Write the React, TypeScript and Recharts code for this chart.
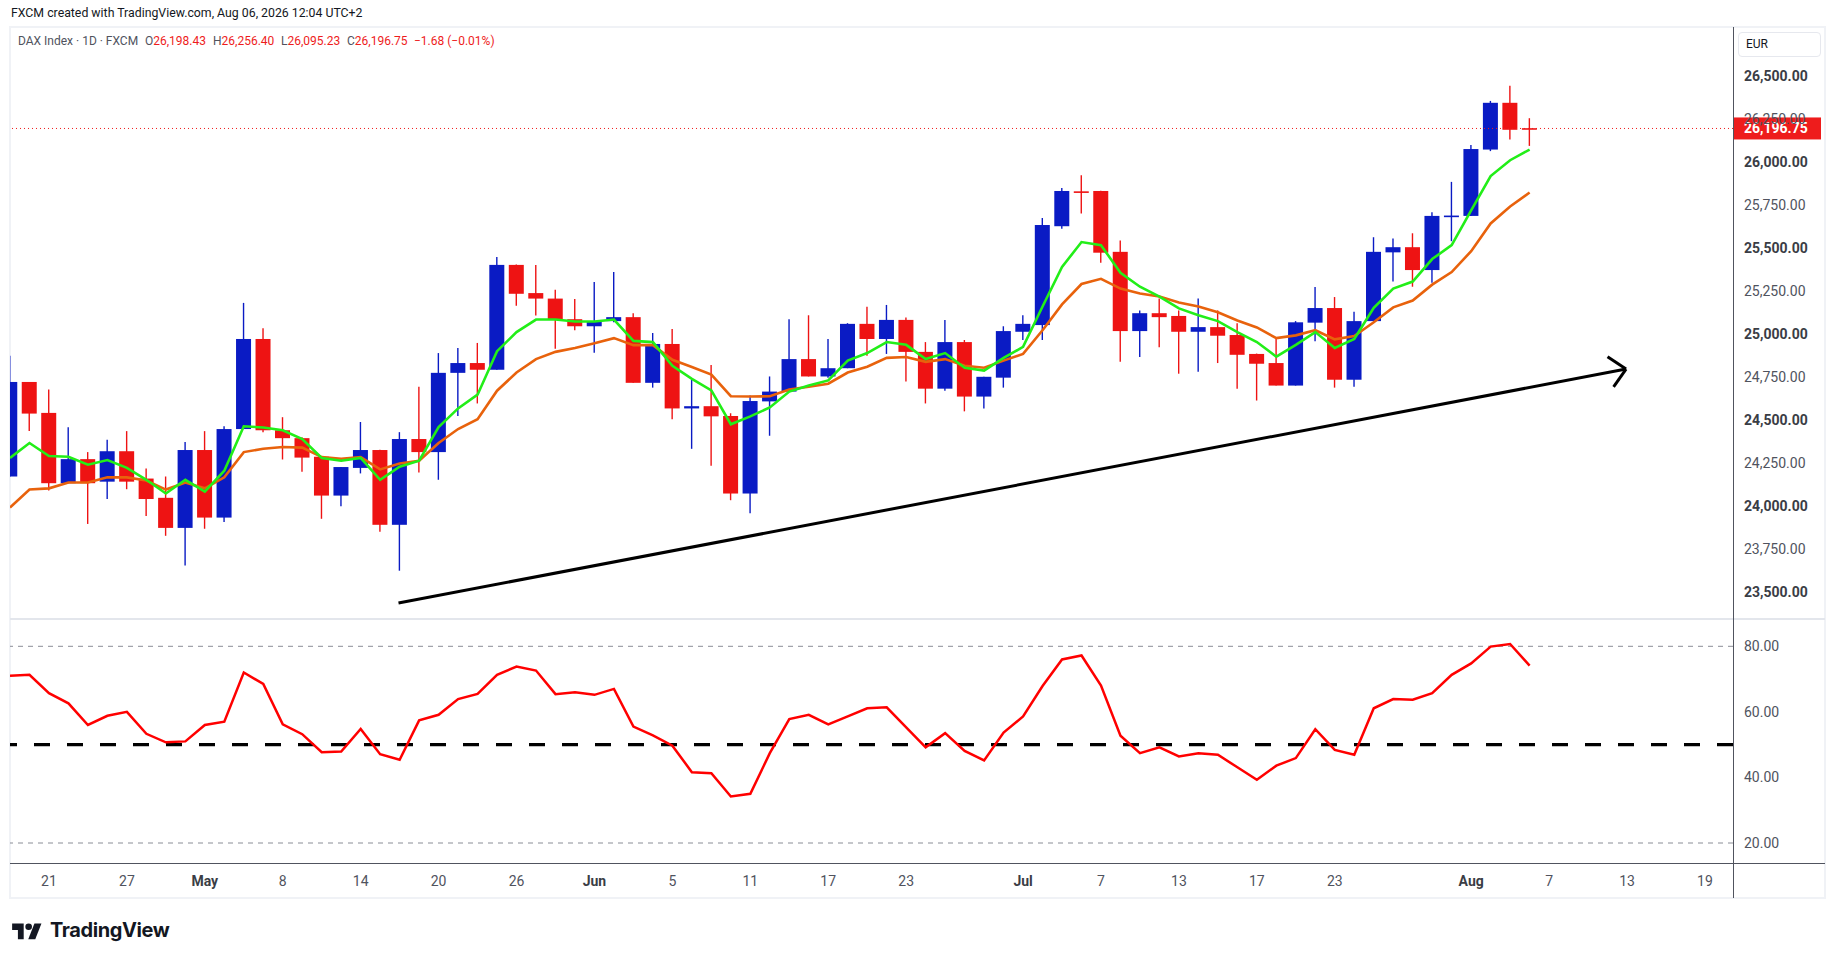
import { ComposedChart, Bar, Line, XAxis, YAxis, ReferenceLine } from "recharts";

// Daily DAX candles, Apr 17 → Aug 6 2026 (index 0..78).
const OPEN = [
  24172, 24722, 24542, 24133, 24273, 24142, 24319, 24160, 24048, 23873,
  24326, 23933, 24448, 24972, 24441, 24395, 24287, 24061, 24222, 24326,
  23891, 24390, 24314, 24775, 24832, 24793, 25403, 25239, 25207, 25087,
  25046, 25076, 25099, 24717, 24943, 24568, 24581, 24524, 24073, 24609,
  24666, 24855, 24754, 24802, 25060, 24972, 25083, 24897, 24683, 24954,
  24637, 24747, 25014, 25053, 25628, 25831, 25833, 25479, 25018, 25122,
  25106, 25014, 25041, 24995, 24885, 24832, 24701, 25067, 25152, 24735,
  25076, 25476, 25506, 25373, 25683, 25688, 26074, 26346, 26198.43,
];
const HIGH = [
  24874, 24722, 24678, 24459, 24314, 24386, 24436, 24218, 24172, 24372,
  24436, 24464, 25182, 25035, 24517, 24400, 24290, 24227, 24489, 24328,
  24430, 24694, 24890, 24920, 24949, 25449, 25405, 25403, 25258, 25205,
  25304, 25361, 25122, 25007, 25030, 24735, 24821, 24540, 24643, 24754,
  25087, 25110, 24972, 25064, 25159, 25170, 25097, 24954, 25083, 24966,
  24752, 25046, 25110, 25676, 25851, 25925, 25835, 25545, 25138, 25207,
  25138, 25207, 25138, 25064, 24887, 24977, 25076, 25274, 25216, 25131,
  25564, 25557, 25587, 25709, 25886, 26100, 26357, 26445, 26256.4,
];
const LOW = [
  24170, 24436, 24091, 24133, 23896, 24041, 24098, 23942, 23827, 23654,
  23868, 23907, 24448, 24430, 24271, 24199, 23926, 23999, 24190, 23850,
  23624, 24195, 24153, 24524, 24597, 24793, 25166, 25108, 24915, 25023,
  24892, 25069, 24717, 24689, 24505, 24333, 24234, 24034, 23958, 24409,
  24666, 24754, 24747, 24802, 24874, 24885, 24724, 24597, 24671, 24551,
  24568, 24689, 24966, 24966, 25614, 25702, 25416, 24839, 24867, 24924,
  24770, 24781, 24832, 24683, 24614, 24701, 24701, 24959, 24689, 24694,
  25076, 25306, 25276, 25299, 25541, 25688, 26065, 26132, 26095.23,
];
const CLOSE = [
  24722, 24538, 24133, 24273, 24133, 24319, 24142, 24041, 23873, 24326,
  23933, 24448, 24972, 24441, 24395, 24282, 24061, 24227, 24326, 23891,
  24390, 24314, 24775, 24832, 24793, 25403, 25235, 25207, 25087, 25046,
  25076, 25099, 24717, 24943, 24568, 24581, 24522, 24073, 24611, 24666,
  24855, 24754, 24802, 25060, 24972, 25083, 24897, 24683, 24954, 24637,
  24752, 25018, 25060, 25635, 25833, 25826, 25474, 25018, 25122, 25099,
  25014, 25041, 24991, 24880, 24828, 24701, 25069, 25152, 24735, 25076,
  25479, 25506, 25373, 25688, 25690, 26077, 26346, 26189, 26196.75,
];
// Fast (green) and slow (orange) moving averages as drawn on the chart.
const MA_FAST = [
  24280, 24367, 24291, 24287, 24241, 24268, 24222, 24153, 24073, 24153,
  24084, 24206, 24464, 24457, 24441, 24390, 24280, 24264, 24280, 24153,
  24229, 24264, 24459, 24568, 24648, 24901, 25012, 25085, 25085, 25074,
  25074, 25085, 24961, 24954, 24816, 24740, 24673, 24476, 24522, 24574,
  24666, 24701, 24731, 24846, 24890, 24954, 24938, 24855, 24890, 24805,
  24788, 24862, 24926, 25161, 25391, 25536, 25518, 25357, 25276, 25219,
  25150, 25110, 25076, 25012, 24954, 24869, 24938, 25012, 24920, 24972,
  25154, 25265, 25306, 25437, 25518, 25720, 25920, 26012, 26074,
];
const MA_SLOW = [
  23992, 24096, 24103, 24137, 24137, 24167, 24167, 24149, 24096, 24137,
  24103, 24167, 24314, 24333, 24344, 24340, 24285, 24275, 24285, 24213,
  24248, 24264, 24367, 24448, 24505, 24671, 24777, 24855, 24897, 24920,
  24947, 24977, 24936, 24936, 24851, 24809, 24765, 24639, 24637, 24639,
  24678, 24694, 24712, 24777, 24811, 24862, 24867, 24839, 24855, 24816,
  24805, 24846, 24885, 25023, 25173, 25292, 25322, 25265, 25237, 25219,
  25184, 25161, 25127, 25080, 25039, 24977, 24993, 25023, 24970, 24989,
  25069, 25156, 25196, 25288, 25361, 25483, 25644, 25743, 25824,
];
const RSI = [
  71.0, 71.3, 65.7, 62.6, 56.0, 58.8, 60.0, 53.3, 50.7, 51.0,
  56.0, 57.0, 72.0, 68.5, 56.2, 53.2, 47.7, 47.9, 54.8, 47.1,
  45.4, 57.4, 59.1, 63.9, 65.5, 71.3, 73.8, 72.6, 65.4, 66.0,
  65.2, 67.0, 55.5, 52.8, 49.7, 41.6, 41.3, 34.2, 35.0, 47.4,
  57.8, 59.1, 56.2, 58.6, 61.1, 61.4, 55.3, 49.2, 53.5, 48.1,
  45.2, 53.7, 58.6, 67.9, 76.0, 77.2, 68.0, 52.7, 47.4, 49.2,
  46.4, 47.4, 46.9, 43.1, 39.3, 43.6, 45.9, 54.7, 48.4, 46.9,
  61.1, 63.9, 63.7, 65.7, 71.3, 74.8, 79.9, 80.7, 74.1,
];

// Time axis: bar index of each date label.
const DATE_TICK_IDX = [2, 6, 10, 14, 18, 22, 26, 30, 34, 38, 42, 46, 52, 56, 60, 64, 68, 75, 79, 83, 87];
const DATE_LABELS = ["21", "27", "May", "8", "14", "20", "26", "Jun", "5", "11", "17", "23", "Jul", "7", "13", "17", "23", "Aug", "7", "13", "19"];
const PRICE_TICKS = [23500, 23750, 24000, 24250, 24500, 24750, 25000, 25250, 25500, 25750, 26000, 26250, 26500];
const RSI_TICKS = [20, 40, 60, 80];

// Hand-drawn trend arrow, in (bar index, price).
const TREND_LINE = [{ x: 19.94, y: 23436 }, { x: 82.95, y: 24797 }];
const ARROW_UPPER = [{ x: 82.0, y: 24869 }, { x: 82.95, y: 24797 }];
const ARROW_LOWER = [{ x: 82.31, y: 24694 }, { x: 82.95, y: 24797 }];

const rows = OPEN.map((open, i) => ({
  i,
  open,
  high: HIGH[i],
  low: LOW[i],
  close: CLOSE[i],
  range: [LOW[i], HIGH[i]],
  maFast: MA_FAST[i],
  maSlow: MA_SLOW[i],
  rsi: RSI[i],
}));

const UP = "#0a1bc4";
const DOWN = "#ee1313";
const LAST = rows[rows.length - 1];
const X_DOMAIN: [number, number] = [0, 88.44];
const PRICE_DOMAIN: [number, number] = [23343, 26787];
const CHART_W = 1815;
const AXIS_W = 92;
const LABEL_X = CHART_W - AXIS_W + 11; // left edge of right-axis text

const fmt = (v: number) =>
  v.toLocaleString("en-US", { minimumFractionDigits: 2, maximumFractionDigits: 2 });

function Candle(props: any) {
  const { x, y, width, height, payload } = props;
  if (!payload || height == null) return null;
  const top = Math.min(y, y + height);
  const h = Math.abs(height);
  const ppu = h / (payload.high - payload.low);
  const yOf = (v: number) => top + (payload.high - v) * ppu;
  const cx = x + width / 2;
  const color = payload.close >= payload.open ? UP : DOWN;
  const bTop = yOf(Math.max(payload.open, payload.close));
  const bH = Math.max(1.6, yOf(Math.min(payload.open, payload.close)) - bTop);
  return (
    <g>
      <line x1={cx} x2={cx} y1={top} y2={top + h} stroke={color} strokeWidth={1.4} />
      <rect x={cx - 7.5} y={bTop} width={15} height={bH} fill={color} />
    </g>
  );
}

function PriceTick({ y, payload }: any) {
  const major = payload.value % 500 === 0;
  return (
    <text x={LABEL_X} y={y + 5} fontSize={14} fontWeight={major ? 700 : 400} fill={major ? "#3a3d45" : "#50535e"}>
      {fmt(payload.value)}
    </text>
  );
}

function RsiTick({ y, payload }: any) {
  return (
    <text x={LABEL_X} y={y + 5} fontSize={14} fill="#50535e">
      {fmt(payload.value)}
    </text>
  );
}

function DateTick({ x, payload }: any) {
  const label = DATE_LABELS[DATE_TICK_IDX.indexOf(payload.value)] ?? "";
  const month = /[A-Za-z]/.test(label);
  return (
    <text x={x} y={267} textAnchor="middle" fontSize={14} fontWeight={month ? 700 : 400} fill={month ? "#3a3d45" : "#50535e"}>
      {label}
    </text>
  );
}

// Drawn as the price axis label so it sits above the tick texts.
function LastPriceLabel({ viewBox }: any) {
  if (!viewBox) return null;
  const [lo, hi] = PRICE_DOMAIN;
  const y = viewBox.y + ((hi - LAST.close) / (hi - lo)) * viewBox.height;
  const x = viewBox.x + 1;
  return (
    <g>
      <rect x={x} y={y - 11} width={87} height={22} fill="#ee1c1c" />
      <text x={x + 10} y={y + 5} fontSize={14} fontWeight={700} fill="#ffffff">
        {fmt(LAST.close)}
      </text>
    </g>
  );
}

const abs = (left: number, top: number, extra: React.CSSProperties = {}): React.CSSProperties => ({
  position: "absolute",
  left,
  top,
  ...extra,
});

export default function App() {
  const legend = [
    { x: 145, k: "O", v: fmt(LAST.open) },
    { x: 213, k: "H", v: fmt(LAST.high) },
    { x: 281, k: "L", v: fmt(LAST.low) },
    { x: 347, k: "C", v: fmt(LAST.close) },
  ];
  return (
    <div
      style={{
        position: "absolute",
        left: 0,
        top: 0,
        width: 1835,
        height: 959,
        background: "#ffffff",
        fontFamily: "Roboto, sans-serif",
        color: "#131722",
        overflow: "hidden",
      }}
    >
      <div style={abs(11, 6, { fontSize: 12.3, whiteSpace: "nowrap" })}>
        FXCM created with TradingView.com, Aug 06, 2026 12:04 UTC+2
      </div>

      {/* chart frame */}
      <div style={abs(9, 26, { width: 1817, height: 873, border: "2px solid #f0f2f6", boxSizing: "border-box" })} />

      {/* price pane */}
      <div style={abs(10, 27)}>
        <ComposedChart width={CHART_W} height={592} data={rows} margin={{ top: 0, right: 0, bottom: 0, left: 0 }}>
          <XAxis dataKey="i" type="number" domain={X_DOMAIN} allowDataOverflow hide />
          <YAxis
            orientation="right"
            width={AXIS_W}
            type="number"
            domain={PRICE_DOMAIN}
            allowDataOverflow
            ticks={PRICE_TICKS}
            interval={0}
            axisLine={false}
            tickLine={false}
            tick={<PriceTick />}
            label={<LastPriceLabel />}
          />
          <Bar dataKey="range" barSize={15} shape={<Candle />} isAnimationActive={false} />
          <Line dataKey="maSlow" type="linear" stroke="#e8620c" strokeWidth={2.6} dot={false} isAnimationActive={false} />
          <Line dataKey="maFast" type="linear" stroke="#22ee18" strokeWidth={2.6} dot={false} isAnimationActive={false} />
          <ReferenceLine segment={TREND_LINE} stroke="#000000" strokeWidth={3} ifOverflow="visible" />
          <ReferenceLine segment={ARROW_UPPER} stroke="#000000" strokeWidth={3} ifOverflow="visible" />
          <ReferenceLine segment={ARROW_LOWER} stroke="#000000" strokeWidth={3} ifOverflow="visible" />
          <ReferenceLine y={LAST.close} stroke="#ee1c1c" strokeDasharray="1 3" strokeWidth={1} />
        </ComposedChart>
      </div>

      {/* RSI pane + time axis */}
      <div style={abs(10, 619)}>
        <ComposedChart width={CHART_W} height={279} data={rows} margin={{ top: 0, right: 0, bottom: 0, left: 0 }}>
          <XAxis
            dataKey="i"
            type="number"
            domain={X_DOMAIN}
            allowDataOverflow
            height={35}
            ticks={DATE_TICK_IDX}
            interval={0}
            axisLine={false}
            tickLine={false}
            tick={<DateTick />}
          />
          <YAxis
            orientation="right"
            width={AXIS_W}
            type="number"
            domain={[13.9, 88.33]}
            allowDataOverflow
            ticks={RSI_TICKS}
            interval={0}
            axisLine={false}
            tickLine={false}
            tick={<RsiTick />}
          />
          <ReferenceLine y={80} stroke="#8a8d96" strokeDasharray="5 5" strokeWidth={1} />
          <ReferenceLine y={20} stroke="#8a8d96" strokeDasharray="5 5" strokeWidth={1} />
          <ReferenceLine y={50} stroke="#000000" strokeDasharray="16 17" strokeWidth={3.4} />
          <Line dataKey="rsi" type="linear" stroke="#ff0000" strokeWidth={2.5} dot={false} isAnimationActive={false} />
        </ComposedChart>
      </div>

      {/* pane separators and axis rules */}
      <div style={abs(10, 618, { width: 1815, height: 2, background: "#e3e6ec" })} />
      <div style={abs(1732.5, 27, { width: 1.5, height: 871, background: "#50535e" })} />
      <div style={abs(10, 862.5, { width: 1815, height: 1.5, background: "#50535e" })} />

      {/* legend */}
      <div style={abs(18, 34, { fontSize: 12, whiteSpace: "nowrap", color: "#50535e" })}>DAX Index · 1D · FXCM</div>
      {legend.map((d) => (
        <div key={d.k} style={abs(d.x, 34, { fontSize: 12, whiteSpace: "nowrap" })}>
          <span style={{ color: "#50535e" }}>{d.k}</span>
          <span style={{ color: "#ee1c1c" }}>{d.v}</span>
        </div>
      ))}
      <div style={abs(414, 34, { fontSize: 12, whiteSpace: "nowrap", color: "#ee1c1c" })}>−1.68 (−0.01%)</div>

      {/* currency box */}
      <div
        style={abs(1738, 32, {
          width: 83,
          height: 25,
          border: "1px solid #e6e8ee",
          borderRadius: 4,
          boxSizing: "border-box",
          fontSize: 12,
          lineHeight: "23px",
          paddingLeft: 7,
        })}
      >
        EUR
      </div>

      {/* TradingView mark */}
      <div style={abs(12, 918, { display: "flex", alignItems: "center", gap: 8 })}>
        <svg width={30} height={19} viewBox="0 0 36 23">
          <path d="M14 22H7V11H0V3h14v19z" fill="#131722" />
          <circle cx={20} cy={7} r={4} fill="#131722" />
          <path d="M28 22h-8.5L27 3h8.5L28 22z" fill="#131722" />
        </svg>
        <span style={{ fontFamily: "Inter, sans-serif", fontSize: 20, fontWeight: 700, letterSpacing: -0.4 }}>
          TradingView
        </span>
      </div>
    </div>
  );
}
